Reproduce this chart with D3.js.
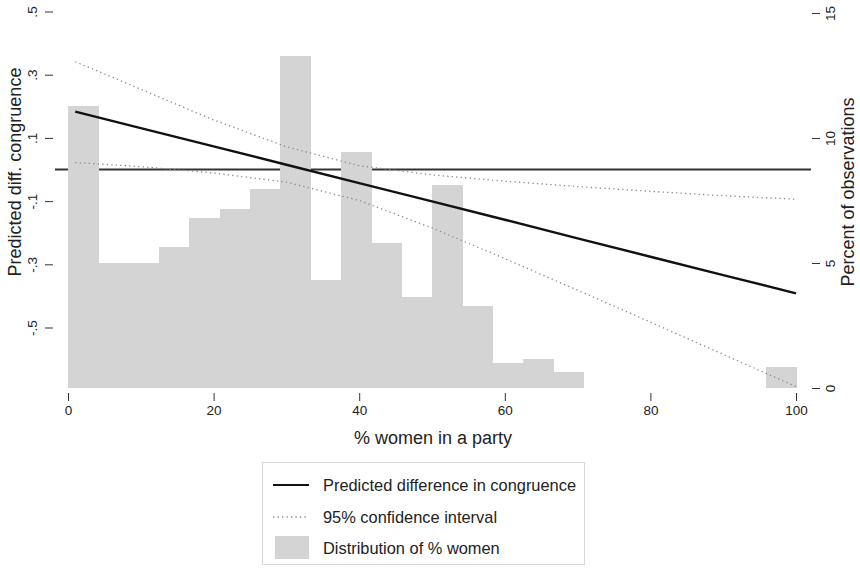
<!DOCTYPE html>
<html>
<head>
<meta charset="utf-8">
<script src="https://cdn.jsdelivr.net/npm/d3@7"></script>
<style>
  html, body { margin: 0; padding: 0; background: #fff; }
  svg { display: block; font-family: "Liberation Sans", Arial, Helvetica, sans-serif; }
</style>
</head>
<body>
<svg id="chart" width="860" height="569"></svg>
<script>
// Histogram of % women in a party (bins of width 100/24, in percent of observations)
const binWidth = 100 / 24;
const binStarts = d3.range(24).map(i => i * binWidth);
const binPercents = [11.28, 4.99, 4.99, 5.65, 6.79, 7.15, 7.96, 13.28, 4.32, 9.45, 5.81, 3.63,
                     8.12, 3.29, 0.99, 1.15, 0.65, 0, 0, 0, 0, 0, 0, 0.83];

// Predicted difference in congruence with 95% confidence interval
const predX     = [1, 10, 20, 30, 40, 50, 60, 70, 80, 90, 100];
const predicted = [0.183, 0.131, 0.073, 0.015, -0.043, -0.101, -0.159, -0.218, -0.276, -0.334, -0.392];
const ciUpper   = [0.341, 0.254, 0.157, 0.072, 0.012, -0.017, -0.037, -0.054, -0.069, -0.083, -0.094];
const ciLower   = [0.022, 0.009, -0.011, -0.040, -0.098, -0.185, -0.282, -0.382, -0.483, -0.585, -0.687];

// Axis ticks
const xTicks = [0, 20, 40, 60, 80, 100];
const leftTicks = [-0.5, -0.3, -0.1, 0.1, 0.3, 0.5];
const leftTickLabels = ["-.5", "-.3", "-.1", ".1", ".3", ".5"];
const rightTicks = [0, 5, 10, 15];

const legendLabels = ["Predicted difference in congruence", "95% confidence interval", "Distribution of % women"];

const svg = d3.select("#chart");

const x = d3.scaleLinear().domain([0, 100]).range([68, 796]);
const yL = d3.scaleLinear().domain([-0.5, 0.5]).range([327.5, 11.5]);
const yR = d3.scaleLinear().domain([0, 15]).range([388, 13]);
const plotX = [x.invert(55), x.invert(811)];

// Reference line at zero (behind the bars)
svg.append("line")
  .attr("x1", x(plotX[0])).attr("x2", x(plotX[1]))
  .attr("y1", yL(0)).attr("y2", yL(0))
  .attr("stroke", "#333").attr("stroke-width", 2.2);

// Histogram bars
svg.append("g").attr("shape-rendering", "crispEdges").selectAll("rect")
  .data(binStarts.map((s, i) => ({ s, p: binPercents[i] })).filter(d => d.p > 0))
  .join("rect")
  .attr("x", d => x(d.s))
  .attr("width", d => x(d.s + binWidth) - x(d.s) + 0.5)
  .attr("y", d => yR(d.p))
  .attr("height", d => yR(0) - yR(d.p))
  .attr("fill", "#d4d4d4");

const lineGen = vals => d3.line()
  .x((d, i) => x(predX[i]))
  .y(d => yL(d))(vals);

// Confidence bounds
[ciUpper, ciLower].forEach(vals => {
  svg.append("path")
    .attr("d", lineGen(vals))
    .attr("fill", "none")
    .attr("stroke", "#8a8a8a")
    .attr("stroke-width", 1.3)
    .attr("stroke-dasharray", "1.3,3.2");
});

// Predicted line
svg.append("path")
  .attr("d", lineGen(predicted))
  .attr("fill", "none")
  .attr("stroke", "#111")
  .attr("stroke-width", 2.4);

// Left axis
const gL = svg.append("g").attr("transform", "translate(53,0)")
  .call(d3.axisLeft(yL).tickValues(leftTicks).tickSize(8)
        .tickFormat((d, i) => leftTickLabels[i]));
gL.select(".domain").remove();
gL.selectAll(".tick line").attr("stroke", "#333");
gL.selectAll(".tick text")
  .attr("transform", "rotate(-90)")
  .attr("x", 0).attr("y", -16).attr("dy", 0)
  .attr("text-anchor", "middle")
  .attr("font-size", 13.5).attr("fill", "#222");

// Right axis
const gR = svg.append("g").attr("transform", "translate(812,0)")
  .call(d3.axisRight(yR).tickValues(rightTicks).tickSize(8));
gR.select(".domain").remove();
gR.selectAll(".tick line").attr("stroke", "#333");
gR.selectAll(".tick text")
  .attr("transform", "rotate(-90)")
  .attr("x", 0).attr("y", 23).attr("dy", 0)
  .attr("text-anchor", "middle")
  .attr("font-size", 13.5).attr("fill", "#222");

// Bottom axis
const gB = svg.append("g").attr("transform", "translate(0,393)")
  .call(d3.axisBottom(x).tickValues(xTicks).tickSize(8).tickPadding(4));
gB.select(".domain").remove();
gB.selectAll(".tick line").attr("stroke", "#333");
gB.selectAll(".tick text").attr("font-size", 13.5).attr("fill", "#222");

// Axis titles
svg.append("text")
  .attr("x", 433).attr("y", 444)
  .attr("text-anchor", "middle").attr("font-size", 18).attr("fill", "#222")
  .text("% women in a party");
svg.append("text")
  .attr("transform", "translate(21,172) rotate(-90)")
  .attr("text-anchor", "middle").attr("font-size", 18).attr("fill", "#222")
  .text("Predicted diff. congruence");
svg.append("text")
  .attr("transform", "translate(854,192) rotate(-90)")
  .attr("text-anchor", "middle").attr("font-size", 18).attr("fill", "#222")
  .text("Percent of observations");

// Legend
const lg = svg.append("g");
lg.append("rect")
  .attr("x", 262.5).attr("y", 462.5).attr("width", 322).attr("height", 102)
  .attr("fill", "#fff").attr("stroke", "#d8d8d8").attr("stroke-width", 1);
const rowY = [485, 517, 548];
lg.append("line").attr("x1", 273).attr("x2", 309).attr("y1", rowY[0]).attr("y2", rowY[0])
  .attr("stroke", "#111").attr("stroke-width", 2.2);
lg.append("line").attr("x1", 273).attr("x2", 309).attr("y1", rowY[1]).attr("y2", rowY[1])
  .attr("stroke", "#8a8a8a").attr("stroke-width", 1.3).attr("stroke-dasharray", "1.3,3.2");
lg.append("rect").attr("x", 275).attr("y", rowY[2] - 12).attr("width", 34).attr("height", 23)
  .attr("fill", "#d4d4d4");
lg.selectAll("text.leg").data(legendLabels).join("text")
  .attr("class", "leg")
  .attr("x", 323).attr("y", (d, i) => rowY[i]).attr("dy", "0.35em")
  .attr("font-size", 16.4).attr("fill", "#222")
  .text(d => d);
</script>
</body>
</html>
